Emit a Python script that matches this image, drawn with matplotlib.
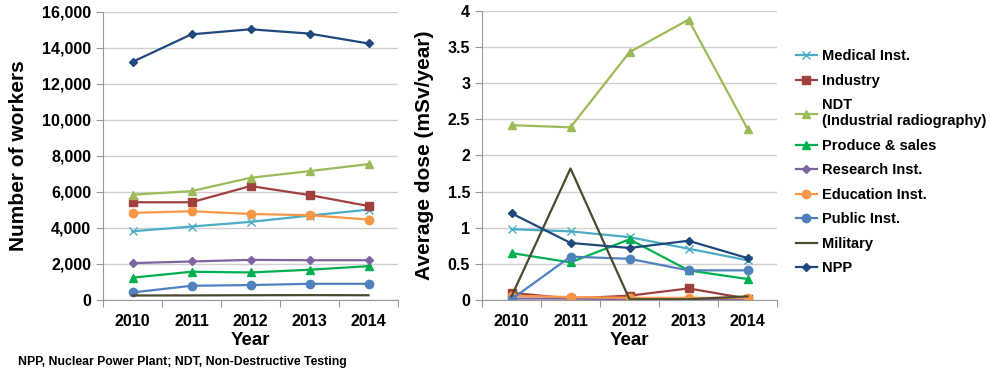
import matplotlib.pyplot as plt

plt.rcParams['font.family'] = ['Liberation Sans', 'DejaVu Sans']
plt.rcParams['font.weight'] = 'bold'

years = ["2010", "2011", "2012", "2013", "2014"]
labels = ["Medical Inst.", "Industry", "NDT\n(Industrial radiography)", "Produce & sales",
          "Research Inst.", "Education Inst.", "Public Inst.", "Military", "NPP"]

# number of workers
workers_medical = [3820, 4080, 4340, 4690, 5020]
workers_industry = [5430, 5430, 6330, 5830, 5220]
workers_ndt = [5850, 6050, 6790, 7160, 7550]
workers_produce = [1240, 1570, 1530, 1680, 1880]
workers_research = [2050, 2140, 2230, 2210, 2210]
workers_education = [4840, 4930, 4780, 4710, 4470]
workers_public = [420, 790, 830, 900, 900]
workers_military = [250, 255, 265, 270, 265]
workers_npp = [13230, 14760, 15040, 14800, 14250]

# average dose (mSv/year)
dose_medical = [0.98, 0.95, 0.87, 0.71, 0.55]
dose_industry = [0.10, 0.02, 0.06, 0.16, 0.02]
dose_ndt = [2.42, 2.39, 3.43, 3.88, 2.37]
dose_produce = [0.65, 0.52, 0.84, 0.41, 0.29]
dose_research = [0.02, 0.02, 0.01, 0.01, 0.01]
dose_education = [0.06, 0.04, 0.03, 0.03, 0.03]
dose_public = [0.01, 0.60, 0.57, 0.41, 0.41]
dose_military = [0.05, 1.82, 0.01, 0.01, 0.05]
dose_npp = [1.20, 0.79, 0.72, 0.82, 0.58]

workers = [workers_medical, workers_industry, workers_ndt, workers_produce, workers_research,
           workers_education, workers_public, workers_military, workers_npp]
doses = [dose_medical, dose_industry, dose_ndt, dose_produce, dose_research,
         dose_education, dose_public, dose_military, dose_npp]

colors = ["#4BACC6", "#A0403C", "#9BBB59", "#00B050", "#8064A2",
          "#F79646", "#4F81BD", "#4A4A30", "#1F497D"]
markers = ["x", "s", "^", "^", "D", "o", "o", "", "D"]
msizes = [5.5, 6, 6, 6, 4.5, 6, 6, 0, 4.5]

fig = plt.figure(figsize=(9.9, 3.75), dpi=100)
ax1 = fig.add_axes([103 / 990, 75 / 375, 295 / 990, 288 / 375])
ax2 = fig.add_axes([482 / 990, 75 / 375, 295 / 990, 289 / 375])

x = range(len(years))


def style(ax, ymax, ystep, fmt, ylabel):
    ax.set_xlim(-0.5, 4.5)
    ax.set_ylim(0, ymax)
    ax.set_xticks([i - 0.5 for i in range(6)])
    ax.set_xticklabels([])
    ax.set_xticks(list(x), minor=True)
    ax.set_xticklabels(years, minor=True, fontsize=11.5, fontweight="bold")
    ax.tick_params(axis="x", which="major", length=5, color="#999999", direction="out")
    ax.tick_params(axis="x", which="minor", length=0, pad=10)
    ticks = [i * ystep for i in range(int(round(ymax / ystep)) + 1)]
    ax.set_yticks(ticks)
    ax.set_yticklabels([fmt(t) for t in ticks], fontsize=11.5, fontweight="bold")
    ax.tick_params(axis="y", length=5, color="#999999")
    ax.grid(axis="y", color="#D0D0D0", linewidth=1)
    ax.set_axisbelow(True)
    for s in ["top", "right"]:
        ax.spines[s].set_visible(False)
    for s in ["left", "bottom"]:
        ax.spines[s].set_color("#999999")
    ax.set_xlabel("Year", fontsize=13.5, fontweight="bold", labelpad=2)
    ax.set_ylabel(ylabel, fontsize=15, fontweight="bold", labelpad=10)


for i in range(len(labels)):
    ax1.plot(x, workers[i], color=colors[i], marker=markers[i], markersize=msizes[i],
             linewidth=1.6, label=labels[i])
    ax2.plot(x, doses[i], color=colors[i], marker=markers[i], markersize=msizes[i],
             linewidth=1.6, label=labels[i])

style(ax1, 16000, 2000, lambda t: f"{t:,.0f}", "Number of workers")
style(ax2, 4, 0.5, lambda t: f"{t:g}", "Average dose (mSv/year)")

handles, labs = ax2.get_legend_handles_labels()
fig.legend(handles, labs, loc="upper left", bbox_to_anchor=(783 / 990, 1 - 36 / 375),
           frameon=False, handlelength=1.4, handletextpad=0.4,
           labelspacing=0.72, prop={"weight": "bold", "size": 10.5})

fig.text(18 / 990, 1 - 362 / 375, "NPP, Nuclear Power Plant; NDT, Non-Destructive Testing",
         fontsize=8.8, fontweight="bold", va="center")

fig.savefig("out.png", dpi=100)
